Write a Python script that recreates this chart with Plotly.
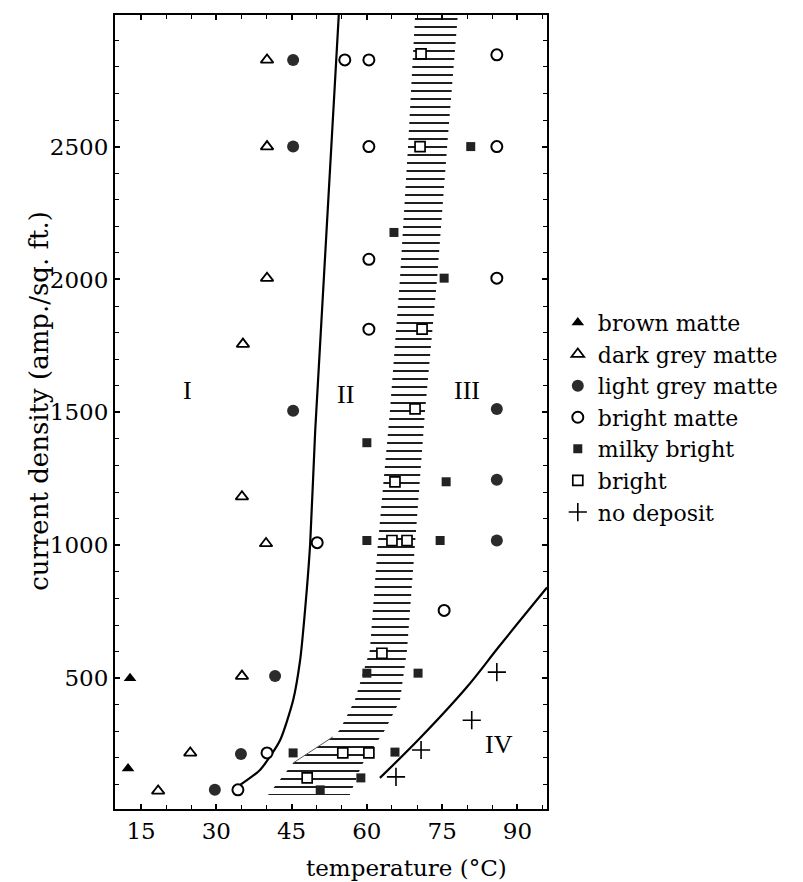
import plotly.graph_objects as go

# ---- data (temperature °C, current density amp./sq. ft.) ----
brown_T = [12.8, 12.4]
brown_C = [500, 160]

darkgrey_T = [40.1, 40.1, 40.1, 35.3, 35.1, 39.9, 35.1, 24.8, 18.4]
darkgrey_C = [2826, 2500, 2005, 1757, 1183, 1007, 508, 219, 76]

lightgrey_T = [45.3, 45.3, 45.3, 41.7, 34.9, 29.7, 85.9, 85.9, 85.9]
lightgrey_C = [2826, 2500, 1506, 508, 215, 80, 1513, 1247, 1018]

brightmatte_T = [55.6, 60.4, 85.9, 60.4, 85.9, 60.4, 85.9, 60.4, 50.1, 75.4, 40.1, 34.3]
brightmatte_C = [2826, 2826, 2845, 2500, 2500, 2076, 2005, 1813, 1010, 755, 219, 80]

milky_T = [80.7, 65.4, 75.4, 60.0, 75.8, 60.0, 74.6, 60.0, 70.2, 45.3, 65.6, 58.8, 50.7]
milky_C = [2500, 2177, 2005, 1386, 1239, 1018, 1018, 519, 519, 219, 222, 125, 80]

bright_T = [70.8, 70.6, 71.0, 69.6, 65.6, 65.0, 68.0, 63.0, 55.2, 60.4, 48.1]
bright_C = [2849, 2500, 1813, 1513, 1239, 1018, 1018, 594, 219, 219, 125]

nodep_T = [85.9, 80.9, 70.8, 65.8]
nodep_C = [523, 342, 230, 129]

# boundary I / II
b1_T = [54.4, 49.7, 48.7, 47.5, 46.7, 45.3, 42.7, 38.7, 33.3]
b1_C = [2995, 1431, 1007, 718, 568, 417, 267, 155, 80]

# boundary III / IV
b2_T = [62.6, 70.6, 79.9, 86.5, 95.9]
b2_C = [125, 275, 466, 623, 841]

# hatched (bright) band outline
band_T = [40.3, 45.3, 53.2, 54.6, 57.6, 60.6, 62.2, 64.6, 66.6, 68.2, 69.6,
          78.1, 76.0, 74.0, 71.6, 69.6, 68.0, 66.6, 63.6, 59.0, 56.6]
band_C = [61, 181, 279, 305, 417, 605, 1007, 1506, 2005, 2500, 2988,
          2988, 2500, 2005, 1506, 1007, 605, 417, 305, 174, 61]

# thin lower diagonal line
diag_T = [45.3, 53.2]
diag_C = [181, 279]

region_labels = ["I", "II", "III", "IV"]
region_T = [24.2, 55.8, 79.9, 86.3]
region_C = [1581, 1569, 1581, 249]

x_ticks = [15, 30, 45, 60, 75, 90]
y_ticks = [500, 1000, 1500, 2000, 2500]

SERIF = "DejaVu Serif"

fig = go.Figure()

# hatched band
fig.add_trace(go.Scatter(
    x=band_T, y=band_C, mode="lines", fill="toself",
    fillcolor="rgba(0,0,0,0)",
    fillpattern=dict(shape="-", size=8, solidity=0.22, fgcolor="black",
                     fgopacity=1, bgcolor="rgba(0,0,0,0)"),
    line=dict(width=0), showlegend=False, hoverinfo="skip"))

fig.add_trace(go.Scatter(x=diag_T, y=diag_C, mode="lines",
                         line=dict(color="#555", width=1),
                         showlegend=False, hoverinfo="skip"))

fig.add_trace(go.Scatter(x=b1_T, y=b1_C, mode="lines",
                         line=dict(color="black", width=2.2, shape="spline", smoothing=0.6),
                         showlegend=False, hoverinfo="skip"))
fig.add_trace(go.Scatter(x=b2_T, y=b2_C, mode="lines",
                         line=dict(color="black", width=2.2, shape="spline", smoothing=1.0),
                         showlegend=False, hoverinfo="skip"))

fig.add_trace(go.Scatter(x=brown_T, y=brown_C, mode="markers", name="brown matte",
                         marker=dict(symbol="triangle-up", size=11, color="black",
                                     line=dict(width=0))))
fig.add_trace(go.Scatter(x=darkgrey_T, y=darkgrey_C, mode="markers", name="dark grey matte",
                         marker=dict(symbol="triangle-up", size=11, color="white",
                                     line=dict(width=1.8, color="black"))))
fig.add_trace(go.Scatter(x=lightgrey_T, y=lightgrey_C, mode="markers", name="light grey matte",
                         marker=dict(symbol="circle", size=12, color="#2b2b2b",
                                     line=dict(width=0))))
fig.add_trace(go.Scatter(x=brightmatte_T, y=brightmatte_C, mode="markers", name="bright matte",
                         marker=dict(symbol="circle", size=11, color="white",
                                     line=dict(width=2, color="black"))))
fig.add_trace(go.Scatter(x=milky_T, y=milky_C, mode="markers", name="milky bright",
                         marker=dict(symbol="square", size=9, color="#222",
                                     line=dict(width=0))))
fig.add_trace(go.Scatter(x=bright_T, y=bright_C, mode="markers", name="bright",
                         marker=dict(symbol="square", size=10, color="white",
                                     line=dict(width=1.7, color="black"))))
fig.add_trace(go.Scatter(x=nodep_T, y=nodep_C, mode="markers", name="no deposit",
                         marker=dict(symbol="cross-thin", size=13, color="black",
                                     line=dict(width=1.6, color="black"))))

for lab, t, c in zip(region_labels, region_T, region_C):
    fig.add_annotation(x=t, y=c, text=lab, showarrow=False,
                       font=dict(family="Liberation Serif", size=26, color="black"))

axis_common = dict(showgrid=False, zeroline=False, showline=True, linecolor="black",
                   linewidth=2, mirror="allticks", ticks="inside", ticklen=5,
                   tickcolor="black", tickwidth=1.5,
                   tickfont=dict(family=SERIF, size=23, color="black"))

fig.update_xaxes(range=[9.8, 95.9], tickvals=x_ticks,
                 minor=dict(dtick=5, ticks="inside", ticklen=4, tickcolor="black", tickwidth=1.2),
                 **axis_common)
fig.update_yaxes(range=[8, 2995], tickvals=y_ticks,
                 minor=dict(dtick=100, ticks="inside", ticklen=4, tickcolor="black", tickwidth=1.2),
                 **axis_common)

fig.add_annotation(xref="paper", yref="paper", x=0.674, y=-0.074, text="temperature (°C)",
                   showarrow=False, font=dict(family=SERIF, size=23, color="black"),
                   yanchor="middle", xanchor="center")
fig.add_annotation(xref="paper", yref="paper", x=-0.176, y=0.514,
                   text="current density (amp./sq. ft.)", textangle=-90,
                   showarrow=False, font=dict(family=SERIF, size=26, color="black"),
                   xanchor="center", yanchor="middle")

fig.update_layout(
    width=803, height=882,
    margin=dict(l=107, r=264, t=5, b=81),
    paper_bgcolor="white", plot_bgcolor="white",
    legend=dict(x=1.025, y=0.639, xanchor="left", yanchor="top",
                font=dict(family=SERIF, size=22, color="black"),
                bgcolor="rgba(0,0,0,0)", borderwidth=0),
)

fig.write_html("out.html")
